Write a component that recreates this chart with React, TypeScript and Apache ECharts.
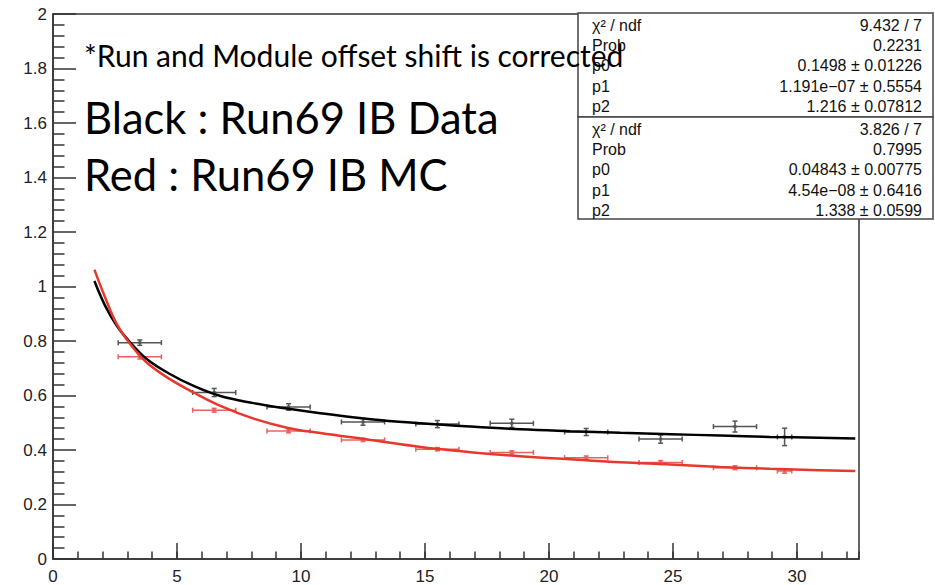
import React, { useEffect, useRef } from 'react';
import * as echarts from 'echarts';

// ---- data points (bin centre, value, x error, y error) ----
const blackX = [3.5, 6.5, 9.5, 12.5, 15.5, 18.5, 21.5, 24.5, 27.5, 29.5];
const blackY = [0.794, 0.611, 0.558, 0.503, 0.495, 0.498, 0.466, 0.44, 0.486, 0.448];
const blackXErr = [0.87, 0.87, 0.87, 0.87, 0.87, 0.87, 0.87, 0.87, 0.87, 0.29];
const blackYErr = [0.01, 0.015, 0.012, 0.012, 0.013, 0.015, 0.013, 0.015, 0.02, 0.032];

const redX = [3.5, 6.5, 9.5, 12.5, 15.5, 18.5, 21.5, 24.5, 27.5, 29.5];
const redY = [0.742, 0.546, 0.47, 0.437, 0.403, 0.391, 0.372, 0.354, 0.335, 0.323];
const redXErr = [0.87, 0.87, 0.87, 0.87, 0.87, 0.87, 0.87, 0.87, 0.87, 0.29];
const redYErr = [0.008, 0.007, 0.007, 0.006, 0.006, 0.006, 0.006, 0.007, 0.007, 0.008];

// ---- fit curves ----
const blackFitX = [1.67, 2.11, 2.58, 3.12, 3.79, 4.73, 5.67, 6.75, 8.09, 9.43, 10.78, 12.8, 14.82, 16.83, 18.84, 20.86, 22.88, 24.9, 26.9, 28.9, 30.9, 32.35];
const blackFitY = [1.02, 0.928, 0.855, 0.794, 0.733, 0.678, 0.635, 0.598, 0.572, 0.552, 0.535, 0.513, 0.498, 0.486, 0.476, 0.469, 0.463, 0.458, 0.453, 0.448, 0.445, 0.442];
const redFitX = [1.67, 2.11, 2.58, 3.12, 3.79, 4.73, 5.67, 6.75, 8.09, 9.43, 10.78, 12.8, 14.82, 16.83, 18.84, 20.86, 22.88, 24.9, 26.9, 28.9, 30.9, 32.35];
const redFitY = [1.062, 0.958, 0.861, 0.788, 0.72, 0.659, 0.611, 0.562, 0.515, 0.482, 0.462, 0.437, 0.411, 0.392, 0.377, 0.366, 0.355, 0.347, 0.338, 0.331, 0.326, 0.323];

// ---- axes ----
const xMin = 0;
const xMax = 32.5;
const yMin = 0;
const yMax = 2;

// ---- texts ----
const noteText = '*Run and Module offset shift is corrected';
const legendBlack = 'Black : Run69 IB Data';
const legendRed = 'Red : Run69 IB MC';

const statsLabels = ['χ² / ndf', 'Prob', 'p0', 'p1', 'p2'];
const statsBlackValues = ['9.432 / 7', '0.2231', '0.1498 ± 0.01226', '1.191e−07 ± 0.5554', '1.216 ± 0.07812'];
const statsRedValues = ['3.826 / 7', '0.7995', '0.04843 ± 0.00775', '4.54e−08 ± 0.6416', '1.338 ± 0.0599'];

const AXIS_COLOR = '#333';
const BLACK_ERR = '#555';
const RED_ERR = '#e8625c';
const BLACK_LINE = '#000';
const RED_LINE = '#e8382e';

function zip4(a: number[], b: number[], c: number[], d: number[]) {
  return a.map((v, i) => [v, b[i], c[i], d[i]]);
}

function errRender(color: string) {
  return (params: any, api: any) => {
    const x = api.value(0);
    const y = api.value(1);
    const ex = api.value(2);
    const ey = api.value(3);
    const l = api.coord([x - ex, y]);
    const r = api.coord([x + ex, y]);
    const t = api.coord([x, y + ey]);
    const b = api.coord([x, y - ey]);
    const c = api.coord([x, y]);
    const cap = 2.5;
    const st = { stroke: color, lineWidth: 1.5 };
    return {
      type: 'group',
      children: [
        { type: 'line', shape: { x1: l[0], y1: l[1], x2: r[0], y2: r[1] }, style: st },
        { type: 'line', shape: { x1: t[0], y1: t[1], x2: b[0], y2: b[1] }, style: st },
        { type: 'line', shape: { x1: l[0], y1: l[1] - cap, x2: l[0], y2: l[1] + cap }, style: st },
        { type: 'line', shape: { x1: r[0], y1: r[1] - cap, x2: r[0], y2: r[1] + cap }, style: st },
        { type: 'line', shape: { x1: t[0] - cap, y1: t[1], x2: t[0] + cap, y2: t[1] }, style: st },
        { type: 'line', shape: { x1: b[0] - cap, y1: b[1], x2: b[0] + cap, y2: b[1] }, style: st },
        { type: 'rect', shape: { x: c[0] - 1.5, y: c[1] - 1.5, width: 3, height: 3 }, style: { fill: color } },
      ],
    };
  };
}

function statsBox(top: number, height: number, values: string[]) {
  const left = 578;
  const right = 933;
  const children: any[] = [
    {
      type: 'rect',
      shape: { x: left, y: top, width: right - left, height },
      style: { fill: '#fff', stroke: '#444', lineWidth: 1.5 },
    },
  ];
  statsLabels.forEach((lab, i) => {
    const y = top + 12 + i * 20.4;
    children.push({
      type: 'text',
      x: 592,
      y,
      style: { text: lab, fontSize: 16, fontFamily: 'Liberation Sans', fill: '#111', textAlign: 'left', textVerticalAlign: 'middle' },
    });
    children.push({
      type: 'text',
      x: 922,
      y,
      style: { text: values[i], fontSize: 16, fontFamily: 'Liberation Sans', fill: '#111', textAlign: 'right', textVerticalAlign: 'middle' },
    });
  });
  return { type: 'group', z: 50, children };
}

export default function App() {
  const ref = useRef<HTMLDivElement>(null);
  useEffect(() => {
    if (!ref.current) return;
    const chart = echarts.init(ref.current, undefined, { renderer: 'svg' });
    const axisLineStyle = { color: AXIS_COLOR, width: 1.5 };
    const option: any = {
      animation: false,
      backgroundColor: '#fff',
      grid: {
        left: 53,
        right: 76,
        top: 14,
        bottom: 25,
        show: true,
        borderColor: AXIS_COLOR,
        borderWidth: 1.5,
        backgroundColor: 'transparent',
      },
      xAxis: [
        {
          type: 'value',
          min: xMin,
          max: xMax,
          interval: 1,
          position: 'bottom',
          axisLine: { show: true, onZero: false, lineStyle: axisLineStyle },
          axisTick: { show: true, inside: true, length: 7.5, lineStyle: axisLineStyle },
          axisLabel: { show: false },
          splitLine: { show: false },
        },
        {
          type: 'value',
          min: xMin,
          max: xMax,
          interval: 5,
          position: 'bottom',
          axisLine: { show: false, onZero: false },
          axisTick: { show: true, inside: true, length: 16, lineStyle: axisLineStyle },
          axisLabel: {
            show: true,
            showMaxLabel: false,
            fontSize: 17,
            fontFamily: 'Liberation Sans',
            color: '#222',
            margin: 9,
            formatter: (v: number) => (v % 5 === 0 ? String(v) : ''),
          },
          splitLine: { show: false },
        },
      ],
      yAxis: {
        type: 'value',
        min: yMin,
        max: yMax,
        interval: 0.2,
        axisLine: { show: true, onZero: false, lineStyle: axisLineStyle },
        axisTick: { show: true, inside: true, length: 23, lineStyle: axisLineStyle },
        minorTick: { show: true, splitNumber: 5, length: 11.5, lineStyle: axisLineStyle },
        axisLabel: {
          fontSize: 17,
          fontFamily: 'Liberation Sans',
          color: '#222',
          margin: 6,
          formatter: (v: number) => String(Math.round(v * 10) / 10),
        },
        splitLine: { show: false },
        minorSplitLine: { show: false },
      },
      series: [
        {
          type: 'custom',
          name: 'Data',
          xAxisIndex: 0,
          renderItem: errRender(BLACK_ERR),
          data: zip4(blackX, blackY, blackXErr, blackYErr),
          encode: { x: 0, y: 1 },
          z: 3,
        },
        {
          type: 'custom',
          name: 'MC',
          xAxisIndex: 0,
          renderItem: errRender(RED_ERR),
          data: zip4(redX, redY, redXErr, redYErr),
          encode: { x: 0, y: 1 },
          z: 3,
        },
        {
          type: 'line',
          name: 'Data fit',
          xAxisIndex: 0,
          data: blackFitX.map((x, i) => [x, blackFitY[i]]),
          smooth: 0.4,
          showSymbol: false,
          lineStyle: { color: BLACK_LINE, width: 2.5 },
          z: 5,
        },
        {
          type: 'line',
          name: 'MC fit',
          xAxisIndex: 0,
          data: redFitX.map((x, i) => [x, redFitY[i]]),
          smooth: 0.4,
          showSymbol: false,
          lineStyle: { color: RED_LINE, width: 2.5 },
          z: 5,
        },
      ],
      graphic: [
        statsBox(13, 104, statsBlackValues),
        statsBox(117, 102, statsRedValues),
        {
          type: 'text',
          z: 100,
          x: 84,
          y: 70,
          style: { text: noteText, fontSize: 30, fontFamily: 'Lato', fill: '#000', textVerticalAlign: 'bottom' },
        },
        {
          type: 'text',
          z: 100,
          x: 84,
          y: 139,
          style: { text: legendBlack, fontSize: 43.5, fontFamily: 'Lato', fill: '#000', textVerticalAlign: 'bottom' },
        },
        {
          type: 'text',
          z: 100,
          x: 84,
          y: 196,
          style: { text: legendRed, fontSize: 43.5, fontFamily: 'Lato', fill: '#000', textVerticalAlign: 'bottom' },
        },
      ],
    };
    chart.setOption(option);
    return () => chart.dispose();
  }, []);
  return (
    <div
      ref={ref}
      style={{ position: 'fixed', left: 0, top: 0, width: 935, height: 585, background: '#fff' }}
    />
  );
}
